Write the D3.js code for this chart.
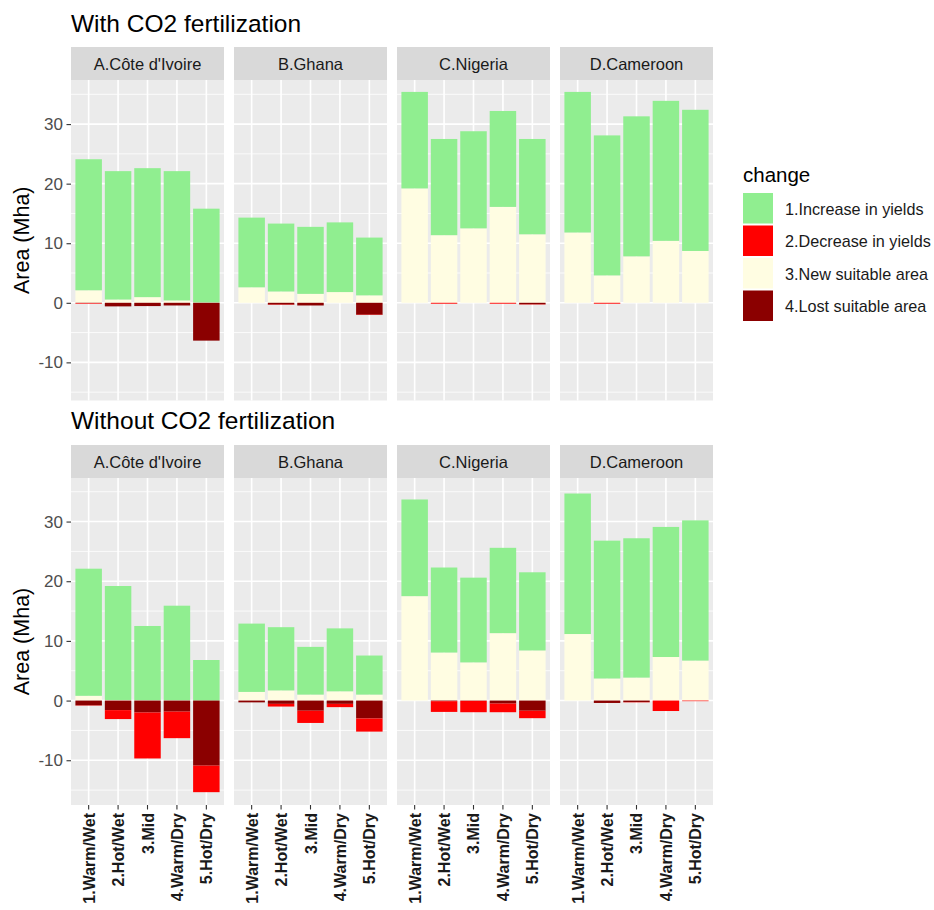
<!DOCTYPE html>
<html><head><meta charset="utf-8">
<script src="https://cdn.jsdelivr.net/npm/d3@7"></script>
<style>body{margin:0;background:#fff}svg{display:block}</style>
</head><body><svg id="c" width="934" height="910"></svg>
<script>
const countries = ["A.Côte d'Ivoire","B.Ghana","C.Nigeria","D.Cameroon"];
const scenarios = ["1.Warm/Wet","2.Hot/Wet","3.Mid","4.Warm/Dry","5.Hot/Dry"];
const changes = ["1.Increase in yields","2.Decrease in yields","3.New suitable area","4.Lost suitable area"];
const changeColors = ["#90EE90","#FF0000","#FFFDE2","#8B0000"];
const yTicks = [-10,0,10,20,30];
const rowTitles = ["With CO2 fertilization","Without CO2 fertilization"];

// With CO2 fertilization (rows = countries, columns = scenarios), Mha
const withIncrease = [[22.0,21.55,21.65,21.7,15.75],[11.7,11.4,11.25,11.7,9.7],[16.2,16.15,16.3,16.1,16.0],[23.6,23.5,23.5,23.5,23.7]];
const withNewArea  = [[2.1,0.55,0.95,0.4,0.05],[2.6,1.9,1.5,1.8,1.25],[19.2,11.35,12.5,16.1,11.5],[11.8,4.6,7.8,10.4,8.7]];
const withDecrease = [[-0.1,0,0,0,0],[0,-0.05,0,0,-0.05],[0,-0.15,0,-0.15,-0.05],[0,-0.15,0,0,0]];
const withLost     = [[-0.05,-0.6,-0.55,-0.45,-6.35],[0,-0.3,-0.45,0,-2.0],[0,0,0,0,-0.25],[0,0,0,0,0]];

// Without CO2 fertilization
const woIncrease = [[21.3,19.1,12.45,15.85,6.8],[11.45,10.6,8.0,10.55,6.55],[16.2,14.25,14.2,14.3,13.1],[23.55,23.1,23.35,21.8,23.5]];
const woNewArea  = [[0.8,0.1,0.05,0.05,0],[1.45,1.7,1.0,1.55,1.0],[17.5,8.05,6.4,11.3,8.4],[11.15,3.7,3.85,7.3,6.7]];
const woDecrease = [[-0.05,-1.5,-7.7,-4.45,-4.45],[0,-0.45,-2.05,-0.55,-2.2],[0,-1.8,-1.9,-1.45,-1.25],[0,0,-0.05,-1.75,-0.1]];
const woLost     = [[-0.8,-1.6,-2.0,-1.85,-10.9],[-0.3,-0.55,-1.7,-0.55,-3.0],[0,-0.1,-0.05,-0.5,-1.7],[0,-0.4,-0.25,0,0]];

const rowsData = [
  {inc:withIncrease, dec:withDecrease, nsa:withNewArea, lost:withLost},
  {inc:woIncrease, dec:woDecrease, nsa:woNewArea, lost:woLost}
];

const svg = d3.select("#c");
const font = "'Liberation Sans', Arial, sans-serif";
const color = d3.scaleOrdinal().domain(changes).range(changeColors);

const panelX = d3.scaleBand().domain(countries).range([71, 713]).paddingInner(0.0613);
const pw = panelX.bandwidth();
const xIn = d3.scaleBand().domain(scenarios).range([0, pw]).paddingInner(0.1).paddingOuter(0.15);

const rowsLayout = [
  {titleY:32, stripTop:47, plotTop:80, plotBottom:400.5, domain:[-16.4,37.4], xAxis:false},
  {titleY:429, stripTop:445, plotTop:478, plotBottom:805, domain:[-17.5,37.3], xAxis:true}
];

const stackOrder = [changes[2], changes[0], changes[3], changes[1]];

rowsLayout.forEach((L, r) => {
  const D = rowsData[r];
  const y = d3.scaleLinear().domain(L.domain).range([L.plotBottom, L.plotTop]);
  const g = svg.append("g");
  g.append("text").attr("x", 71).attr("y", L.titleY).text(rowTitles[r])
    .attr("font-family", font).attr("font-size", 24.5).attr("fill", "#000");

  // y axis
  const ya = g.append("g").attr("transform", `translate(71,0)`)
    .call(d3.axisLeft(y).tickValues(yTicks).tickFormat(d => String(d)).tickSize(4.5).tickPadding(3.5));
  ya.select(".domain").remove();
  ya.selectAll(".tick line").attr("stroke", "#333").attr("stroke-width", 1.1);
  ya.selectAll(".tick text").attr("font-family", font).attr("font-size", 17).attr("fill", "#4D4D4D");
  g.append("text").attr("transform", `translate(29,${(L.plotTop+L.plotBottom)/2}) rotate(-90)`)
    .attr("text-anchor", "middle").text("Area (Mha)")
    .attr("font-family", font).attr("font-size", 21.5).attr("fill", "#000");

  const minor = d3.range(-15, 40, 10).filter(v => v > L.domain[0] && v < L.domain[1]);

  countries.forEach((c, ci) => {
    const px = panelX(c);
    const pg = g.append("g").attr("transform", `translate(${px},0)`);
    // strip
    pg.append("rect").attr("x", 0).attr("y", L.stripTop).attr("width", pw).attr("height", L.plotTop - L.stripTop).attr("fill", "#D9D9D9");
    pg.append("text").attr("x", pw/2).attr("y", (L.stripTop + L.plotTop)/2 + 6).attr("text-anchor", "middle")
      .text(c).attr("font-family", font).attr("font-size", 16.5).attr("fill", "#1A1A1A");
    // panel bg
    pg.append("rect").attr("x", 0).attr("y", L.plotTop).attr("width", pw).attr("height", L.plotBottom - L.plotTop).attr("fill", "#EBEBEB");
    // grid
    pg.selectAll(".mn").data(minor).enter().append("line")
      .attr("x1", 0).attr("x2", pw).attr("y1", d => y(d)).attr("y2", d => y(d))
      .attr("stroke", "#fff").attr("stroke-width", 0.8);
    pg.selectAll(".mj").data(yTicks).enter().append("line")
      .attr("x1", 0).attr("x2", pw).attr("y1", d => y(d)).attr("y2", d => y(d))
      .attr("stroke", "#fff").attr("stroke-width", 1.6);
    pg.selectAll(".vx").data(scenarios).enter().append("line")
      .attr("x1", d => xIn(d) + xIn.bandwidth()/2).attr("x2", d => xIn(d) + xIn.bandwidth()/2)
      .attr("y1", L.plotTop).attr("y2", L.plotBottom)
      .attr("stroke", "#fff").attr("stroke-width", 1.6);

    // data rows for stack
    const rows = scenarios.map((s, si) => ({
      scenario: s,
      [changes[0]]: D.inc[ci][si],
      [changes[1]]: D.dec[ci][si],
      [changes[2]]: D.nsa[ci][si],
      [changes[3]]: D.lost[ci][si]
    }));
    const series = d3.stack().keys(stackOrder).offset(d3.stackOffsetDiverging)(rows);
    pg.selectAll(".ser").data(series).enter().append("g")
      .attr("fill", d => color(d.key))
      .selectAll("rect").data(d => d.filter(p => p[1] !== p[0])).enter().append("rect")
      .attr("x", d => xIn(d.data.scenario))
      .attr("width", xIn.bandwidth())
      .attr("y", d => y(Math.max(d[0], d[1])))
      .attr("height", d => Math.abs(y(d[0]) - y(d[1])));

    if (L.xAxis) {
      const xa = pg.append("g").attr("transform", `translate(0,${L.plotBottom})`)
        .call(d3.axisBottom(xIn).tickSize(4.5).tickPadding(3));
      xa.select(".domain").remove();
      xa.selectAll(".tick line").attr("stroke", "#333").attr("stroke-width", 1.1);
      xa.selectAll(".tick text")
        .attr("font-family", font).attr("font-size", 16).attr("font-weight", "bold").attr("fill", "#1A1A1A")
        .attr("text-anchor", "end").attr("dy", null).attr("y", 0).attr("x", 0)
        .attr("transform", "translate(6,8) rotate(-90)");
    }
  });
});

// legend
const lg = svg.append("g").attr("transform", "translate(743,0)");
lg.append("text").attr("x", 0).attr("y", 182).text("change")
  .attr("font-family", font).attr("font-size", 20.5).attr("fill", "#000");
changes.forEach((ch, i) => {
  const yy = 193 + i * 32.5;
  lg.append("rect").attr("x", 0).attr("y", yy).attr("width", 30).attr("height", 30.5).attr("fill", color(ch));
  lg.append("text").attr("x", 42).attr("y", yy + 21.5).text(ch)
    .attr("font-family", font).attr("font-size", 16.2).attr("fill", "#1A1A1A");
});
</script></body></html>
